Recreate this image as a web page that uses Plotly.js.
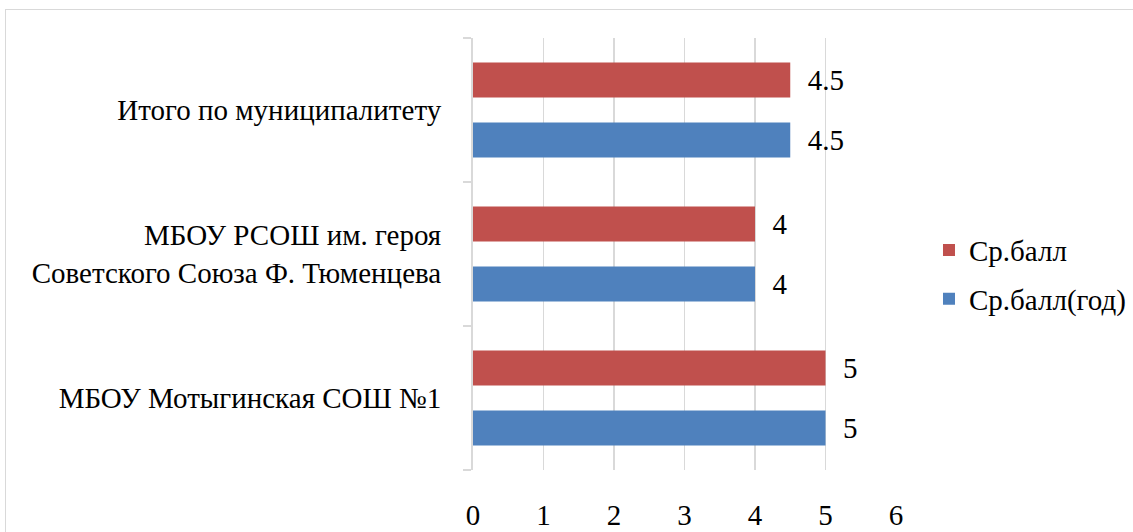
<!DOCTYPE html>
<html>
<head>
<meta charset="utf-8">
<script src="https://cdn.plot.ly/plotly-3.0.1.min.js"></script>
<style>
html,body{margin:0;padding:0;background:#fff;}
#wrap{position:relative;width:1133px;height:532px;overflow:hidden;}
#chart{width:1133px;height:532px;}
#frame{position:absolute;left:5px;top:9px;width:1200px;height:600px;border:1px solid #d9d9d9;pointer-events:none;}
</style>
</head>
<body>
<div id="wrap"><div id="chart"></div><div id="frame"></div></div>
<script>
const categories = [
  "МБОУ Мотыгинская СОШ №1",
  "МБОУ РСОШ им. героя<br>Советского Союза Ф. Тюменцева",
  "Итого по муниципалитету"
];
const seriesYearName = "Ср.балл(год)";
const seriesYear = [5, 4, 4.5];
const seriesName = "Ср.балл";
const seriesValues = [5, 4, 4.5];
const xTicks = [0, 1, 2, 3, 4, 5, 6];

function mkFont() {
  return {family: "'Times New Roman', 'Liberation Serif', Tinos, 'DejaVu Serif', serif", size: 29, color: "#000000"};
}
const labelTpl = "\u00a0\u00a0%{x}";

const traces = [
  {type: "bar", orientation: "h", name: seriesYearName, legendgroup: "year", legendrank: 2,
   y: categories, x: seriesYear,
   marker: {color: "#4F81BD"}, text: seriesYear, texttemplate: labelTpl, textposition: "outside",
   textfont: mkFont(), cliponaxis: false, hoverinfo: "none"},
  {type: "bar", orientation: "h", name: seriesName, legendgroup: "avg", legendrank: 1,
   y: categories, x: seriesValues,
   marker: {color: "#C0504D"}, text: seriesValues, texttemplate: labelTpl, textposition: "outside",
   textfont: mkFont(), cliponaxis: false, hoverinfo: "none"}
];

const layout = {
  width: 1133, height: 532,
  margin: {l: 473, r: 237, t: 38, b: 62, autoexpand: false},
  paper_bgcolor: "#fff", plot_bgcolor: "#fff",
  font: mkFont(),
  barmode: "group", bargap: 0.167, bargroupgap: 0.417,
  showlegend: true,
  legend: {traceorder: "grouped", x: 1.078, xanchor: "left", y: 0.452, yanchor: "middle",
           font: mkFont(), tracegroupgap: 8, itemwidth: 30},
  xaxis: {range: [0, 6], tickvals: xTicks, ticktext: xTicks.map(String), showgrid: true,
          gridcolor: "#d9d9d9", gridwidth: 1.5, zeroline: false, showline: false, ticks: "",
          ticklabelstandoff: 25, tickfont: mkFont(), fixedrange: true, automargin: false},
  yaxis: {type: "category", categoryorder: "array", categoryarray: categories,
          showline: true, linecolor: "#d9d9d9", linewidth: 2, ticks: "outside", tickson: "boundaries",
          ticklen: 8, tickcolor: "#d9d9d9", tickwidth: 2, showgrid: false,
          ticklabelstandoff: 24, tickfont: mkFont(), fixedrange: true, automargin: false}
};

Plotly.newPlot("chart", traces, layout, {displayModeBar: false, staticPlot: true});
</script>
</body>
</html>
